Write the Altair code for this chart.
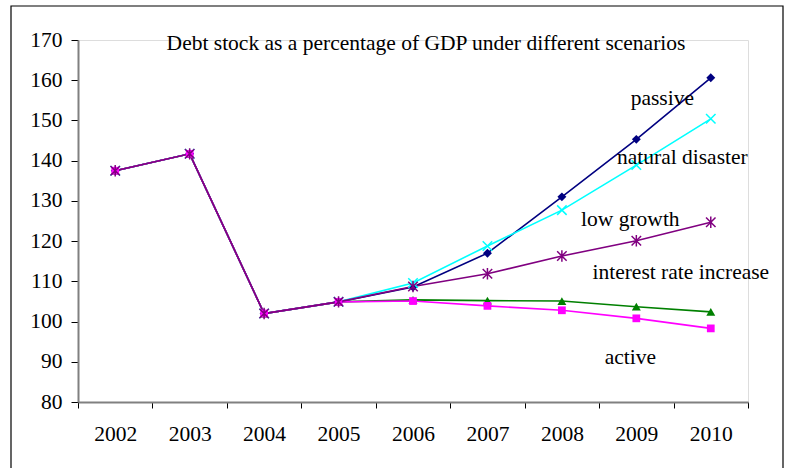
import altair as alt
import pandas as pd

# Debt stock (% of GDP), 2002-2010, under five scenarios
years = ["2002", "2003", "2004", "2005", "2006", "2007", "2008", "2009", "2010"]
passive = [137.5, 141.7, 102.0, 104.9, 108.6, 117.0, 131.0, 145.3, 160.6]
natural_disaster = [137.5, 141.7, 102.0, 104.9, 109.6, 118.8, 127.7, 138.9, 150.4]
low_growth = [137.5, 141.7, 102.0, 104.9, 108.7, 111.9, 116.3, 120.1, 124.7]
interest_rate_increase = [137.5, 141.7, 102.0, 104.9, 105.4, 105.2, 105.1, 103.7, 102.4]
active = [137.5, 141.7, 102.0, 104.9, 105.1, 103.9, 102.8, 100.8, 98.3]

y_ticks = [80, 90, 100, 110, 120, 130, 140, 150, 160, 170]

title_text = "Debt stock as a percentage of GDP under different scenarios"

# In-plot series labels: text, anchor year, anchor value
label_texts = ["passive", "natural disaster", "low growth", "interest rate increase", "active"]
label_years = ["2009", "2009", "2009", "2010", "2009"]
label_values = [155.3, 140.7, 125.2, 112.0, 90.9]
label_dx = [26, 46, -6, -30, -6]

FONT = "Liberation Serif"
FS = 21.5
W, H = 670, 362

X_PATH = "M-1,-1L1,1M-1,1L1,-1"
STAR_PATH = "M-1,-1L1,1M-1,1L1,-1M0,-1.2L0,1.2"

# name, values, colour, marker shape, filled, marker size
series = [
    ("passive", passive, "#000080", "diamond", True, 80),
    ("natural disaster", natural_disaster, "#00FFFF", X_PATH, False, 90),
    ("interest rate increase", interest_rate_increase, "#008000", "triangle-up", True, 80),
    ("active", active, "#FF00FF", "square", True, 60),
    ("low growth", low_growth, "#800080", STAR_PATH, False, 90),
]

x_enc = alt.X(
    "year:O",
    sort=years,
    scale=alt.Scale(type="band", domain=years, paddingInner=0, paddingOuter=0),
    bandPosition=0.5,
    axis=alt.Axis(
        title=None, labelAngle=0, tickBand="extent", grid=False,
        domainColor="#808080", domainWidth=2, tickColor="black", tickWidth=1,
        tickSize=6, labelFont=FONT, labelFontSize=FS, labelColor="black",
        labelPadding=15,
    ),
)
y_enc = alt.Y(
    "value:Q",
    scale=alt.Scale(domain=[80, 170], nice=False, zero=False),
    axis=alt.Axis(
        title=None, values=y_ticks, grid=False, domainColor="#808080",
        domainWidth=2, tickColor="black", tickWidth=1, tickSize=7,
        labelFont=FONT, labelFontSize=FS, labelColor="black", labelPadding=9,
    ),
)

lines = []
points = []
for name, vals, color, shape, filled, size in series:
    df = pd.DataFrame({"year": years, "value": vals, "scenario": name})
    base = alt.Chart(df).encode(x=x_enc, y=y_enc)
    lines.append(base.mark_line(color=color, strokeWidth=1.6))
    if filled:
        points.append(base.mark_point(shape=shape, filled=True, color=color,
                                      size=size, opacity=1))
    else:
        points.append(base.mark_point(shape=shape, filled=False, color=color,
                                      size=size, strokeWidth=1.5, opacity=1))

label_layers = []
for text, yr, val, dx in zip(label_texts, label_years, label_values, label_dx):
    ldf = pd.DataFrame({"year": [yr], "value": [val], "label": [text]})
    label_layers.append(
        alt.Chart(ldf).mark_text(font=FONT, fontSize=FS, color="black",
                                 align="center", baseline="middle", dx=dx)
        .encode(x=x_enc, y=y_enc, text="label:N")
    )

# Chart heading, drawn inside the plot area near its top
heading = alt.Chart(pd.DataFrame({"t": [title_text]})).mark_text(
    font=FONT, fontSize=FS, color="black", align="center", baseline="middle"
).encode(text="t:N", x=alt.value(348), y=alt.value(4))

# Outer frame around the whole chart
frame = alt.Chart(pd.DataFrame({"f": [0]})).mark_rect(
    filled=False, stroke="black", strokeWidth=1.2
).encode(x=alt.value(-67), x2=alt.value(705), y=alt.value(-34), y2=alt.value(480))

chart = alt.layer(frame, heading, *lines, *points, *label_layers).properties(
    width=W,
    height=H,
    autosize=alt.AutoSizeParams(type="none"),
    padding={"left": 78, "top": 40, "right": 37, "bottom": 66},
).configure_view(stroke=None).configure(background="white")

chart.save("out.html", embed_options={"renderer": "svg", "actions": False})
